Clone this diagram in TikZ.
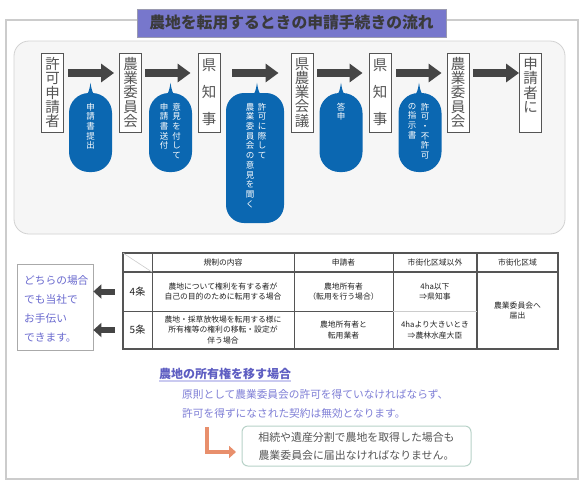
\documentclass[tikz,border=0pt]{standalone}
\usepackage{fontspec}
\setmainfont{Noto Sans CJK JP}
\usetikzlibrary{arrows.meta}
\definecolor{framegray}{HTML}{CCCCCC}
\definecolor{titlefill}{HTML}{7777CC}
\definecolor{titleline}{HTML}{9A9AB0}
\definecolor{titletext}{HTML}{3A3A3A}
\definecolor{panelfill}{HTML}{F6F6F6}
\definecolor{panelline}{HTML}{D2D2D2}
\definecolor{boxline}{HTML}{555555}
\definecolor{boxtext}{HTML}{555555}
\definecolor{arrowgray}{HTML}{454545}
\definecolor{bubblue}{HTML}{0B67B1}
\definecolor{helptext}{HTML}{6A6ACF}
\definecolor{helpline}{HTML}{AAAAAA}
\definecolor{headpurple}{HTML}{5E5EC2}
\definecolor{bodypurple}{HTML}{7E7ED6}
\definecolor{ulpurple}{HTML}{CACAF0}
\definecolor{orangearr}{HTML}{E88F6C}
\definecolor{noteline}{HTML}{B8D2C8}
\definecolor{notetext}{HTML}{555555}
\definecolor{tabline}{HTML}{555555}
\definecolor{tablight}{HTML}{CCCCCC}
\definecolor{tabtext}{HTML}{222222}
\newcommand\bubtail[2]{\fill[bubblue] ([xshift=#2-6pt,yshift=-5pt]#1.north) .. controls ([xshift=#2-1.5pt,yshift=1pt]#1.north) .. ([xshift=#2,yshift=10pt]#1.north) .. controls ([xshift=#2+1.5pt,yshift=1pt]#1.north) .. ([xshift=#2+6pt,yshift=-5pt]#1.north) -- cycle;}
\begin{document}
\begin{tikzpicture}[x=1pt,y=-1pt,
  stepbox/.style={draw=boxline, line width=0.9pt, fill=white, minimum width=22pt, minimum height=79pt, inner sep=0pt, align=center, text=boxtext, font=\fontsize{14.5}{14.2}\selectfont},
  fatarrow/.style={draw=arrowgray, line width=8pt, -{Triangle[length=13pt,width=18pt]}},
  smallarrow/.style={draw=arrowgray, line width=6pt, -{Triangle[length=8pt,width=14pt]}},
  bubble/.style={fill=bubblue, rounded corners=20pt, inner sep=0pt, minimum width=43pt, minimum height=79pt},
  btext/.style={text=white, align=center, inner sep=0pt, anchor=north, font=\fontsize{8.5}{9.7}\selectfont},
  tabcell/.style={align=center, inner sep=0pt, text=tabtext, font=\fontsize{7.8}{10.5}\selectfont},
  rowhead/.style={inner sep=0pt, minimum width=29pt, text=tabtext, font=\fontsize{10}{12}\selectfont},
  helpbox/.style={draw=helpline, line width=0.8pt, fill=white, minimum width=76pt, minimum height=86pt, inner sep=0pt},
  notebox/.style={draw=noteline, line width=1pt, rounded corners=6pt, minimum width=229pt, minimum height=40pt, inner sep=0pt, align=center, text=notetext, font=\fontsize{10.9}{18}\selectfont}
]
\useasboundingbox (0,0) rectangle (585,485);
\fill[white] (0,0) rectangle (585,485);
% outer frame
\draw[framegray, line width=1.5pt] (6,20) rectangle (578,479);
% title
\node[fill=titlefill, draw=titleline, line width=0.8pt, minimum width=309pt, minimum height=28pt, inner sep=0pt, text=titletext, font=\bfseries\fontsize{15.8}{16}\selectfont] (title) at (291.5,23) {農地を転用するときの申請手続きの流れ};
% panel
\draw[panelline, fill=panelfill, line width=0.8pt, rounded corners=15pt] (14,41) rectangle (565,234);
% boxes
\node[stepbox] (n1) at (52.5,92.5) {許\\可\\申\\請\\者};
\node[stepbox] (n2) at (130.5,92.5) {農\\業\\委\\員\\会};
\node[stepbox] (n3) at (209,92.5) {県\\[13pt]知\\[13pt]事};
\node[stepbox] (n4) at (302,92.5) {県\\農\\業\\会\\議};
\node[stepbox] (n5) at (380,92.5) {県\\[13pt]知\\[13pt]事};
\node[stepbox] (n6) at (458,92.5) {農\\業\\委\\員\\会};
\node[stepbox] (n7) at (530.5,92.5) {申\\請\\者\\に\\\phantom{申}};
% arrows
\draw[fatarrow, shorten <=4pt, shorten >=5pt] ([yshift=19.5pt]n1.east) -- ([yshift=19.5pt]n2.west);
\draw[fatarrow, shorten <=3pt, shorten >=7pt] ([yshift=19.5pt]n2.east) -- ([yshift=19.5pt]n3.west);
\draw[fatarrow, shorten <=12pt, shorten >=12pt] ([yshift=19.5pt]n3.east) -- ([yshift=19.5pt]n4.west);
\draw[fatarrow, shorten <=4pt, shorten >=6pt] ([yshift=19.5pt]n4.east) -- ([yshift=19.5pt]n5.west);
\draw[fatarrow, shorten <=5pt, shorten >=5pt] ([yshift=19.5pt]n5.east) -- ([yshift=19.5pt]n6.west);
\draw[fatarrow, shorten <=4pt, shorten >=0pt] ([yshift=19.5pt]n6.east) -- ([yshift=19.5pt]n7.west);
% bubbles
\node[bubble] (bb1) at (90.5,132.5) {};
\node[bubble] (bb2) at (170.5,132.5) {};
\node[bubble, minimum width=58pt, minimum height=130pt, rounded corners=18pt] (bb3) at (255,158) {};
\node[bubble] (bb4) at (341,132.5) {};
\node[bubble] (bb5) at (420,132.5) {};
\bubtail{bb1}{0pt}
\bubtail{bb2}{0pt}
\bubtail{bb3}{2pt}
\bubtail{bb4}{0pt}
\bubtail{bb5}{-1pt}
\node[btext] (t1) at ([yshift=-10pt]bb1.north) {申\\請\\書\\提\\出};
\node[btext] (t2a) at ([xshift=6pt,yshift=-10pt]bb2.north) {意\\見\\を\\付\\し\\て};
\node[btext] (t2b) at ([xshift=-6.5pt,yshift=-10pt]bb2.north) {申\\請\\書\\送\\付};
\node[btext] (t3a) at ([xshift=7pt,yshift=-10pt]bb3.north) {許\\可\\に\\際\\し\\て};
\node[btext] (t3b) at ([xshift=-5pt,yshift=-10pt]bb3.north) {農\\業\\委\\員\\会\\の\\意\\見\\を\\聞\\く};
\node[btext] (t4) at ([yshift=-10pt]bb4.north) {答\\申};
\node[btext] (t5a) at ([xshift=5pt,yshift=-10pt]bb5.north) {許\\可\\・\\不\\許\\可};
\node[btext] (t5b) at ([xshift=-8pt,yshift=-10pt]bb5.north) {の\\指\\示\\書};
% help box
\node[helpbox] (help) at (55,307) {};
\node[anchor=west, inner sep=0pt, align=left, text=helptext, font=\fontsize{10.7}{19}\selectfont] (helptxt) at (24,308.5) {どちらの場合\\でも当社で\\お手伝い\\できます。};
% table
\draw[tabline, line width=1.2pt] (123,253) rectangle (558,349);
\draw[tabline, line width=1.2pt] (123,272) -- (558,272);
\draw[tabline, line width=0.9pt] (152,253) -- (152,349);
\draw[tabline, line width=0.9pt] (294,253) -- (294,349);
\draw[tabline, line width=0.9pt] (393,253) -- (393,349);
\draw[tabline, line width=1.1pt] (477,253) -- (477,349);
\draw[tabline, line width=0.9pt] (123,311) -- (393,311);
\draw[tablight, line width=0.8pt] (393,311) -- (477,311);
\draw[tablight, line width=0.6pt] (123,253) -- (152,272);
\node[tabcell] (h1) at (223,262.5) {規制の内容};
\node[tabcell] (h2) at (343.5,262.5) {申請者};
\node[tabcell] (h3) at (435,262.5) {市街化区域以外};
\node[tabcell] (h4) at (517.5,262.5) {市街化区域};
\node[rowhead, minimum height=39pt] (r4) at (137.5,291.5) {4条};
\node[rowhead, minimum height=38pt] (r5) at (137.5,330) {5条};
\node[tabcell] (c12) at (223,291.5) {農地について権利を有する者が\\自己の目的のために転用する場合};
\node[tabcell] (c22) at (223,330) {農地・採草放牧場を転用する様に\\所有権等の権利の移転・設定が\\伴う場合};
\node[tabcell] (c13) at (343.5,291.5) {農地所有者\\（転用を行う場合）};
\node[tabcell] (c23) at (343.5,330) {農地所有者と\\転用業者};
\node[tabcell] (c14) at (435,291.5) {4ha以下\\⇒県知事};
\node[tabcell] (c24) at (435,330) {4haより大きいとき\\⇒農林水産大臣};
\node[tabcell] (c5) at (517.5,310.5) {農業委員会へ\\届出};
% small arrows
\draw[smallarrow, shorten <=8pt] (r4.west) -- (help.east |- r4.west);
\draw[smallarrow, shorten <=8pt] (r5.west) -- (help.east |- r5.west);
% bottom text
\node[anchor=west, inner sep=0pt, text=headpurple, font=\bfseries\fontsize{12}{12}\selectfont] (head) at (159,374) {農地の所有権を移す場合};
\draw[ulpurple, line width=1.5pt] ([yshift=-1pt]head.south west) -- ([yshift=-1pt]head.south east);
\node[anchor=west, inner sep=0pt, align=left, text=bodypurple, font=\fontsize{10.7}{19}\selectfont] (body) at (182,403.5) {原則として農業委員会の許可を得ていなければならず、\\許可を得ずになされた契約は無効となります。};
\node[notebox] (note) at (356.5,446) {相続や遺産分割で農地を取得した場合も\\農業委員会に届出なければなりません。};
\coordinate (lstart) at (207,427);
\coordinate (lend) at (236,452);
\draw[draw=orangearr, line width=4pt, -{Triangle[length=7pt,width=12pt]}] (lstart) |- (lend);
\end{tikzpicture}
\end{document}
